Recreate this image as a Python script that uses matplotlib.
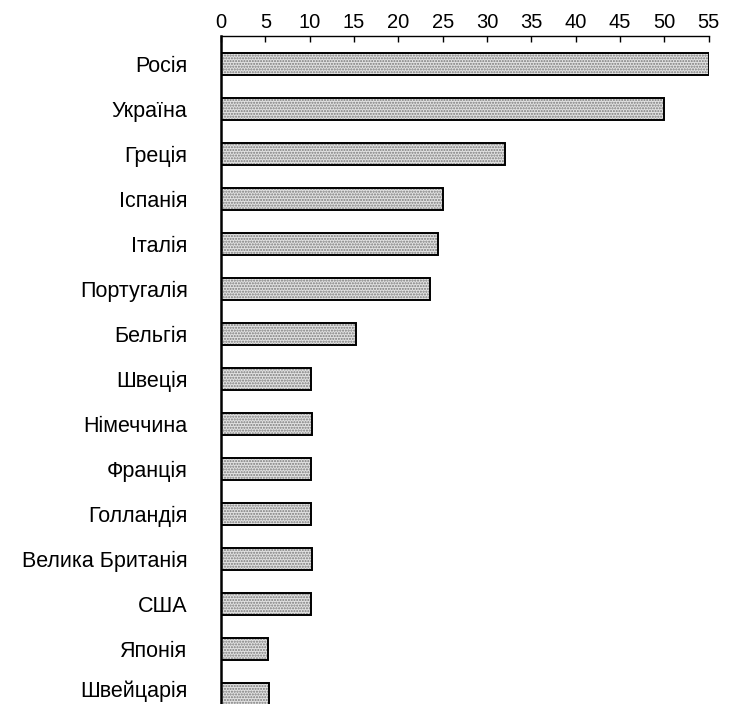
import matplotlib

matplotlib.use("Agg")

import matplotlib.pyplot as plt
import matplotlib.transforms as mtransforms

countries = [
    "Росія", "Україна", "Греція", "Іспанія", "Італія", "Португалія",
    "Бельгія", "Швеція", "Німеччина", "Франція", "Голландія",
    "Велика Британія", "США", "Японія", "Швейцарія",
]
values = [55, 50, 32, 25, 24.5, 23.6, 15.2, 10.1, 10.3, 10.1, 10.2, 10.3, 10.1, 5.3, 5.4]
xticks = list(range(0, 60, 5))

plt.rcParams["font.family"] = ["Liberation Sans", "DejaVu Sans"]

fig = plt.figure(figsize=(7.33, 7.04), dpi=100)
ax = fig.add_axes([0.3015, 0.0, 0.6655, 0.949])

pos = list(range(len(countries)))
# stippled fill first, black outline on top
ax.barh(pos, values, height=0.49, color="#e2e2e2", edgecolor="#7a7a7a",
        hatch="......", linewidth=0)
ax.barh(pos, values, height=0.49, facecolor="none", edgecolor="black",
        linewidth=1.4)

ax.set_xlim(0, 55)
ax.set_ylim(14.22, -0.622)
ax.set_xticks(xticks)
ax.set_yticks(pos)
ax.set_yticklabels(countries)

ax.xaxis.tick_top()
ax.tick_params(axis="x", direction="in", length=4, width=1, pad=3,
               labelsize=14.5)
ax.tick_params(axis="y", length=0, pad=24, labelsize=15.5)

# last label sits right on the bottom edge; nudge it up a little
last = ax.get_yticklabels()[-1]
last.set_transform(last.get_transform()
                   + mtransforms.ScaledTranslation(0, 4 / 72, fig.dpi_scale_trans))

for side in ("right", "bottom"):
    ax.spines[side].set_visible(False)
ax.spines["left"].set_linewidth(1.8)
ax.spines["top"].set_linewidth(1.0)

fig.savefig("out.png", dpi=100)
